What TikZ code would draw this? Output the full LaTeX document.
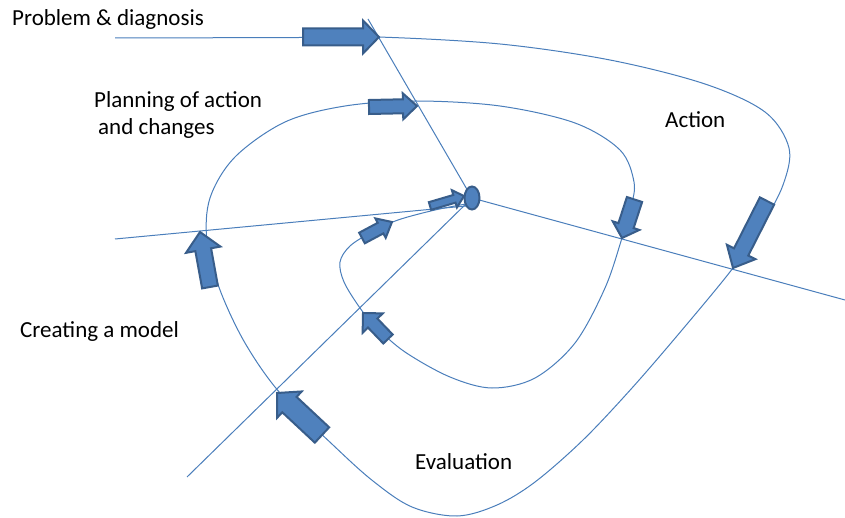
\documentclass[tikz,border=0pt]{standalone}
\usepackage{fontspec}
\setmainfont{Carlito}
\usetikzlibrary{calc,shapes.geometric}
\definecolor{linec}{HTML}{4A7EBB}
\definecolor{fillc}{HTML}{4F81BD}
\definecolor{edgec}{HTML}{385D8A}
\tikzset{
  guide/.style={draw=linec, line width=1pt},
  blockarrow/.style={fill=fillc, draw=edgec, line width=2pt, line join=miter},
  hubstyle/.style={ellipse, fill=fillc, draw=edgec, line width=2pt,
    minimum width=15pt, minimum height=23pt, inner sep=0pt},
  lbl/.style={anchor=base west, font=\fontsize{23}{27}\selectfont, inner sep=0pt},
}
% block arrow: #1 tail, #2 tip, #3 shaft half width, #4 head half width, #5 head length
\newcommand\blockarr[5]{%
  \coordinate (ba-h) at ($(#2)!#5!(#1)$);
  \filldraw[blockarrow]
    ($(#1)!#3!90:(#2)$) -- ($(ba-h)!#3!90:(#2)$) -- ($(ba-h)!#4!90:(#2)$)
    -- (#2)
    -- ($(ba-h)!#4!-90:(#2)$) -- ($(ba-h)!#3!-90:(#2)$) -- ($(#1)!#3!-90:(#2)$)
    -- cycle;}
\begin{document}
\begin{tikzpicture}[x=1pt,y=-1pt]
\useasboundingbox (0,0) rectangle (845,518);

% centre of the spiral
\coordinate (c) at (472,198);

% radial guide lines
\coordinate (rTop) at (368,19);
\coordinate (rLeft) at (115,239);
\coordinate (rLow) at (187,477);
\coordinate (rRight) at (845,300);
\draw[guide] (rTop) -- (c);
\draw[guide] (rLeft) -- (466,206);
\draw[guide] (rLow) -- (c);
\draw[guide] (c) -- (rRight);

% the spiral, from problem statement inwards
\draw[guide] plot[smooth, tension=0.55] coordinates {
  (115,38) (300,37.5) (378,37) (500,44) (610,60) (705,84) (765,112)
  (789,148) (783,185) (762,225) (733,268) (682,330) (632,388)
  (583,440) (535,482) (497,505) (457,516) (412,507)
  (373,481) (333,445) (280,393) (245,343) (220,290) (207,242) (210,198)
  (235,157) (285,122) (345,106) (416,101) (500,106) (575,123)
  (620,150) (634,182) (631,207) (622,238) (605,288) (575,343)
  (535,378) (492,388) (450,377) (405,352) (376,327) (360,308)
  (344,282) (340,262) (350,246) (372,232) (398,220) (435,210) (466,204)
};

% the hub
\node[hubstyle] (hub) at (c) {};

% block arrows along the spiral
\blockarr{303,37}{379,37}{8.5pt}{16.5pt}{16pt}
\blockarr{369,107}{417,106}{7pt}{13pt}{14pt}
\blockarr{430,206}{464,196}{4pt}{9pt}{10pt}
\blockarr{634.5,199.5}{622,238}{8pt}{14pt}{13pt}
\blockarr{767,201}{733,268}{8pt}{16pt}{18pt}
\blockarr{210,287}{200,232}{8pt}{17.5pt}{18pt}
\blockarr{322,435}{277,393}{10.5pt}{18pt}{17pt}
\blockarr{388,339}{363,313}{6.5pt}{14pt}{14pt}
\blockarr{362,238}{392,222}{6pt}{11pt}{13pt}

% labels
\node[lbl] (t1) at (12,26) {Problem \& diagnosis};
\node[lbl] (t2) at (94,108) {Planning of action};
\node[lbl] (t3) at (98,135) {and changes};
\node[lbl] (t4) at (665,128) {Action};
\node[lbl] (t5) at (20,337) {Creating a model};
\node[lbl] (t6) at (415,469) {Evaluation};
\end{tikzpicture}
\end{document}
